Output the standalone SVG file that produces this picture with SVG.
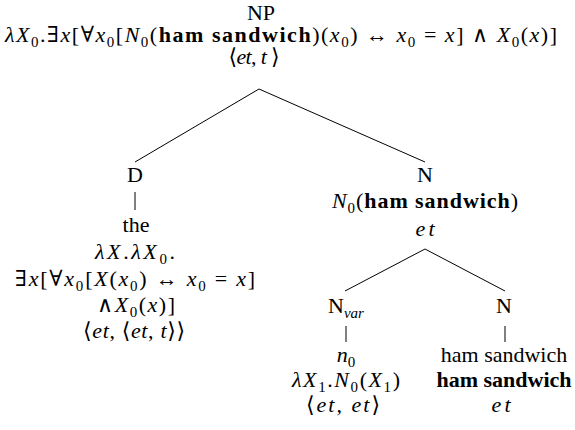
<svg xmlns="http://www.w3.org/2000/svg" width="575" height="430" viewBox="0 0 575 430">
<style>
text { font-family: "Liberation Serif", "DejaVu Serif", serif; font-size: 22px; fill: #000; text-anchor: middle; }
.i { font-style: italic; }
.b { font-weight: bold; }
.s { font-size: 15px; font-style: normal; }
.si { font-size: 15px; font-style: italic; }
.edge { stroke: #000; stroke-width: 1; fill: none; }
</style>
<rect width="575" height="430" fill="#fff"/>
<g id="connectors">
<line class="edge" x1="259" y1="89" x2="135" y2="162"/>
<line class="edge" x1="259" y1="89" x2="425" y2="162"/>
<line class="edge" x1="135" y1="192" x2="135" y2="210"/>
<line class="edge" x1="425" y1="249" x2="345" y2="291"/>
<line class="edge" x1="425" y1="249" x2="505" y2="291"/>
<line class="edge" x1="346" y1="326" x2="346" y2="342"/>
<line class="edge" x1="505" y1="326" x2="505" y2="342"/>
</g>
<g id="node-NP">
<text x="261" y="20">NP</text>
<text x="5" y="42" style="text-anchor:start" textLength="552" lengthAdjust="spacing"><tspan class="i">λX</tspan><tspan class="s" dy="5">0</tspan><tspan dy="-5">.∃</tspan><tspan class="i">x</tspan>[∀<tspan class="i">x</tspan><tspan class="s" dy="5">0</tspan><tspan dy="-5">[</tspan><tspan class="i">N</tspan><tspan class="s" dy="5">0</tspan><tspan dy="-5">(</tspan><tspan class="b">ham sandwich</tspan>)(<tspan class="i">x</tspan><tspan class="s" dy="5">0</tspan><tspan dy="-5">) ↔ </tspan><tspan class="i">x</tspan><tspan class="s" dy="5">0</tspan><tspan dy="-5"> = </tspan><tspan class="i">x</tspan>] ∧ <tspan class="i">X</tspan><tspan class="s" dy="5">0</tspan><tspan dy="-5">(</tspan><tspan class="i">x</tspan>)]</text>
<text x="254" y="64" textLength="51" lengthAdjust="spacing">⟨<tspan class="i">et</tspan>, <tspan class="i">t</tspan> ⟩</text>
</g>
<g id="node-D">
<text x="135" y="182">D</text>
<text x="136" y="232">the</text>
<text x="135" y="259" textLength="80" lengthAdjust="spacing"><tspan class="i">λX</tspan>.<tspan class="i">λX</tspan><tspan class="s" dy="5">0</tspan><tspan dy="-5">.</tspan></text>
<text x="135" y="286" textLength="240" lengthAdjust="spacing">∃<tspan class="i">x</tspan>[∀<tspan class="i">x</tspan><tspan class="s" dy="5">0</tspan><tspan dy="-5">[</tspan><tspan class="i">X</tspan>(<tspan class="i">x</tspan><tspan class="s" dy="5">0</tspan><tspan dy="-5">) ↔ </tspan><tspan class="i">x</tspan><tspan class="s" dy="5">0</tspan><tspan dy="-5"> = </tspan><tspan class="i">x</tspan>]</text>
<text x="136" y="312" textLength="78" lengthAdjust="spacing">∧<tspan class="i">X</tspan><tspan class="s" dy="5">0</tspan><tspan dy="-5">(</tspan><tspan class="i">x</tspan>)]</text>
<text x="134" y="338" textLength="102" lengthAdjust="spacing">⟨<tspan class="i">et</tspan>, ⟨<tspan class="i">et</tspan>, <tspan class="i">t</tspan>⟩⟩</text>
</g>
<g id="node-N">
<text x="425" y="182">N</text>
<text x="425" y="208" textLength="186" lengthAdjust="spacing"><tspan class="i">N</tspan><tspan class="s" dy="5">0</tspan><tspan dy="-5">(</tspan><tspan class="b">ham sandwich</tspan>)</text>
<text x="425" y="236" class="i" textLength="19" lengthAdjust="spacing">et</text>
</g>
<g id="node-Nvar">
<text x="346" y="313">N<tspan class="si" dy="5">var</tspan></text>
<text x="346" y="362"><tspan class="i">n</tspan><tspan class="s" dy="5">0</tspan></text>
<text x="346" y="387" textLength="108" lengthAdjust="spacing"><tspan class="i">λX</tspan><tspan class="s" dy="5">1</tspan><tspan dy="-5">.</tspan><tspan class="i">N</tspan><tspan class="s" dy="5">0</tspan><tspan dy="-5">(</tspan><tspan class="i">X</tspan><tspan class="s" dy="5">1</tspan><tspan dy="-5">)</tspan></text>
<text x="343" y="412" textLength="74" lengthAdjust="spacing">⟨<tspan class="i">et</tspan>, <tspan class="i">et</tspan>⟩</text>
</g>
<g id="node-N2">
<text x="504" y="313">N</text>
<text x="504" y="362">ham sandwich</text>
<text x="504" y="387" class="b">ham sandwich</text>
<text x="501" y="412" class="i" textLength="19" lengthAdjust="spacing">et</text>
</g>
</svg>
